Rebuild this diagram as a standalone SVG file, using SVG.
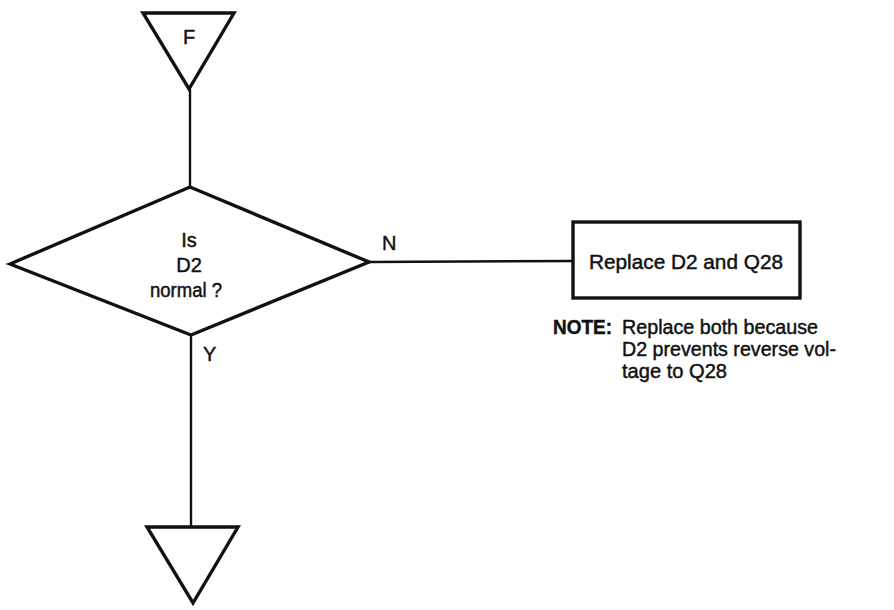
<svg xmlns="http://www.w3.org/2000/svg" width="894" height="610" viewBox="0 0 894 610">
  <style>
    .shape { fill: #fff; stroke: #111; stroke-width: 3.4; stroke-linejoin: miter; }
    .wire { fill: none; stroke: #111; stroke-width: 2.4; }
    .t { font-family: "Liberation Sans", Arial, sans-serif; font-size: 20px; fill: #111; stroke: #111; stroke-width: 0.45; }
    .b { font-weight: bold; }
  </style>
  <rect width="894" height="610" fill="#fff"/>

  <!-- flow lines -->
  <g id="connectors">
    <line class="wire" x1="190" y1="89" x2="190" y2="187"/>
    <line class="wire" x1="369" y1="262" x2="573" y2="261"/>
    <line class="wire" x1="191" y1="335" x2="191" y2="527"/>
    <text class="t" x="382" y="250">N</text>
    <text class="t" x="203" y="361">Y</text>
  </g>

  <!-- entry connector F -->
  <g id="entry-F">
    <polygon class="shape" points="143,13 234,13 189,89"/>
    <text class="t" x="189" y="44" text-anchor="middle">F</text>
  </g>

  <!-- decision -->
  <g id="decision-D2">
    <polygon class="shape" points="10,264 190,187 369,262 191,335"/>
    <text class="t" x="189" y="247" text-anchor="middle">Is</text>
    <text class="t" x="189" y="272" text-anchor="middle">D2</text>
    <text class="t" x="186" y="297" text-anchor="middle" textLength="72" lengthAdjust="spacingAndGlyphs">normal ?</text>
  </g>

  <!-- action -->
  <g id="replace-D2-Q28">
    <rect class="shape" x="573" y="222" width="227" height="76"/>
    <text class="t" x="589" y="269" textLength="194" lengthAdjust="spacingAndGlyphs">Replace D2 and Q28</text>
  </g>

  <!-- note -->
  <g id="note">
    <text class="t b" x="553" y="334" textLength="59" lengthAdjust="spacingAndGlyphs">NOTE:</text>
    <text class="t" x="622" y="334" textLength="196" lengthAdjust="spacingAndGlyphs">Replace both because</text>
    <text class="t" x="622" y="356" textLength="214" lengthAdjust="spacingAndGlyphs">D2 prevents reverse vol-</text>
    <text class="t" x="622" y="378" textLength="105" lengthAdjust="spacingAndGlyphs">tage to Q28</text>
  </g>

  <!-- exit connector -->
  <g id="exit">
    <polygon class="shape" points="147,527 238,527 193,603"/>
  </g>
</svg>
